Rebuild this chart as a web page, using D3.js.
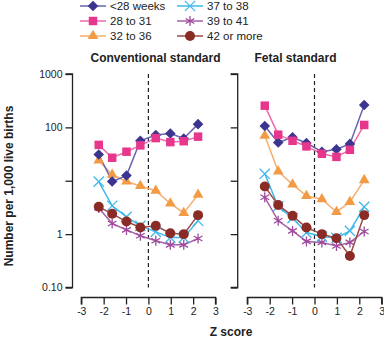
<!DOCTYPE html>
<html><head><meta charset="utf-8">
<script src="https://cdn.jsdelivr.net/npm/d3@7"></script>
<style>
html,body{margin:0;padding:0;background:#fff;}
svg{display:block;font-family:"Liberation Sans",Arial,Helvetica,sans-serif;}
</style></head>
<body>
<svg id="chart" width="384" height="338"></svg>
<script>
// ---- data ----
const zBins = [-2.22, -1.62, -0.98, -0.36, 0.33, 0.98, 1.58, 2.22];
const seriesNames = ["<28 weeks", "28 to 31", "32 to 36", "37 to 38", "39 to 41", "42 or more"];
const conventional = {
  "<28 weeks": [31, 9.7, 12.5, 56, 72, 77, 62, 115],
  "28 to 31":  [47, 27, 35, 46, 63, 53, 55, 67],
  "32 to 36":  [24, 13, 9.7, 8.0, 6.5, 3.75, 2.5, 5.5],
  "37 to 38":  [9.6, 3.4, 2.1, 1.43, 1.1, 0.86, 0.86, 1.78],
  "39 to 41":  [3.1, 1.58, 1.2, 0.93, 0.75, 0.63, 0.63, 0.83],
  "42 or more":[3.25, 2.4, 1.72, 1.33, 1.43, 1.04, 1.0, 2.27]
};
const fetal = {
  "<28 weeks": [106, 52, 65, 51, 35, 39, 49, 263],
  "28 to 31":  [255, 73, 56, 44, 32, 28, 38, 111],
  "32 to 36":  [70, 15, 8.5, 5.2, 4.5, 2.6, 4.0, 10.3],
  "37 to 38":  [13.5, 3.3, 2.0, 1.07, 0.9, 0.85, 1.15, 3.25],
  "39 to 41":  [4.9, 1.78, 1.15, 0.73, 0.7, 0.6, 0.7, 1.12],
  "42 or more":[7.8, 3.5, 2.2, 1.33, 1.0, 0.84, 0.39, 2.27]
};
const yTicks = [1000, 100, 10, 1, 0.1];
const yTickLabels = ["1000", "100", "", "1", "0.10"];
const xTicks = [-3, -2, -1, 0, 1, 2, 3];
const panelTitles = ["Conventional standard", "Fetal standard"];

// ---- styles ----
const markerColor = {"<28 weeks":"#3b3590","28 to 31":"#e6378c","32 to 36":"#f39a45","37 to 38":"#3fb8ea","39 to 41":"#9f4a9d","42 or more":"#8a2b25"};
const lineColor = {"<28 weeks":"#6a63b0","28 to 31":"#ee6aa8","32 to 36":"#f5ae6e","37 to 38":"#3fb8ea","39 to 41":"#a660a6","42 or more":"#9a4b45"};
const symType = {"<28 weeks":"diamond","28 to 31":d3.symbolSquare,"32 to 36":d3.symbolTriangle,"37 to 38":d3.symbolTimes,"39 to 41":d3.symbolAsterisk,"42 or more":d3.symbolCircle};
const symSize = {"<28 weeks":56,"28 to 31":72,"32 to 36":50,"37 to 38":70,"39 to 41":70,"42 or more":78};
const strokeSym = {"37 to 38":true,"39 to 41":true};

const svg = d3.select("#chart");
const y = d3.scaleLog().domain([0.1, 1000]).range([287.5, 74]);

function drawMarker(g, name, cx, cy){
  const t = symType[name];
  if (t === "diamond"){
    g.append("path").attr("d", d3.symbol(d3.symbolSquare, symSize[name])())
      .attr("transform", `translate(${cx},${cy}) rotate(45)`)
      .attr("fill", markerColor[name]);
  } else if (strokeSym[name]){
    g.append("path").attr("d", d3.symbol(t, symSize[name])())
      .attr("transform", `translate(${cx},${cy})`)
      .attr("fill","none").attr("stroke", markerColor[name]).attr("stroke-width",1.3);
  } else {
    g.append("path").attr("d", d3.symbol(t, symSize[name])())
      .attr("transform", `translate(${cx},${cy})`)
      .attr("fill", markerColor[name]);
  }
}

function panel(data, x0, x1, axisX, title, titleX, showYLabels){
  const x = d3.scaleLinear().domain([-3, 3]).range([x0, x1]);
  const g = svg.append("g");
  const ya = g.append("g").attr("transform", `translate(${axisX},0)`)
    .call(d3.axisLeft(y).tickValues(yTicks).tickSize(7).tickPadding(3)
      .tickFormat((d,i)=> showYLabels ? yTickLabels[i] : ""));
  const xa = g.append("g").attr("transform", `translate(0,297.5)`)
    .call(d3.axisBottom(x).tickValues(xTicks).tickSize(7).tickPadding(3).tickFormat(d3.format("d")));
  [ya, xa].forEach(a=>{
    a.select(".domain").attr("stroke","#222").attr("stroke-width",1.3)
      .attr("d", a === ya ? `M-7,${y(1000)}H0V${y(0.1)}H-7` : `M${x(-3)},7V0H${x(3)}V7`);
    a.selectAll(".tick line").attr("stroke","#222").attr("stroke-width",1.3);
    a.selectAll(".tick text").attr("font-size","10.5px").attr("fill","#222")
      .attr("font-family","Liberation Sans, Arial, sans-serif");
  });
  xa.selectAll(".tick text").text(d => d < 0 ? "-" + Math.abs(d) : d);
  g.append("line").attr("x1", x(0)).attr("x2", x(0)).attr("y1", y(1000)).attr("y2", y(0.1))
    .attr("stroke","#222").attr("stroke-width",1.2).attr("stroke-dasharray","4,3");
  g.append("text").attr("x", titleX).attr("y", 61.5).attr("text-anchor","middle")
    .attr("font-size","12px").attr("font-weight","bold").attr("fill","#222").text(title);
  const line = d3.line().x((d,i)=>x(zBins[i])).y(d=>y(d));
  const order = ["39 to 41","37 to 38","42 or more","32 to 36","<28 weeks","28 to 31"];
  order.forEach(name=>{
    g.append("path").attr("d", line(data[name])).attr("fill","none")
      .attr("stroke", lineColor[name]).attr("stroke-width",1.5);
  });
  order.forEach(name=>{
    data[name].forEach((v,i)=> drawMarker(g, name, x(zBins[i]), y(v)));
  });
}

panel(conventional, 81.3, 215.5, 72.5, panelTitles[0], 155.5, true);
panel(fetal, 247.3, 381.7, 237.7, panelTitles[1], 295.5, false);

svg.append("text").attr("transform","translate(13,186) rotate(-90)").attr("text-anchor","middle")
  .attr("font-size","12px").attr("font-weight","bold").attr("fill","#222").text("Number per 1,000 live births");
svg.append("text").attr("x", 231).attr("y", 336).attr("text-anchor","middle")
  .attr("font-size","12px").attr("font-weight","bold").attr("fill","#222").text("Z score");

const legendPos = [
  {x:80, y:6}, {x:80, y:21}, {x:80, y:36},
  {x:177, y:6}, {x:177, y:21}, {x:177, y:36}
];
seriesNames.forEach((name,i)=>{
  const p = legendPos[i];
  const lg = svg.append("g");
  lg.append("line").attr("x1", p.x).attr("x2", p.x+26).attr("y1", p.y).attr("y2", p.y)
    .attr("stroke", lineColor[name]).attr("stroke-width",1.5);
  drawMarker(lg, name, p.x+13, p.y);
  lg.append("text").attr("x", p.x+30).attr("y", p.y+4).attr("font-size","11.5px")
    .attr("fill","#222").text(name);
});
</script>
</body></html>
